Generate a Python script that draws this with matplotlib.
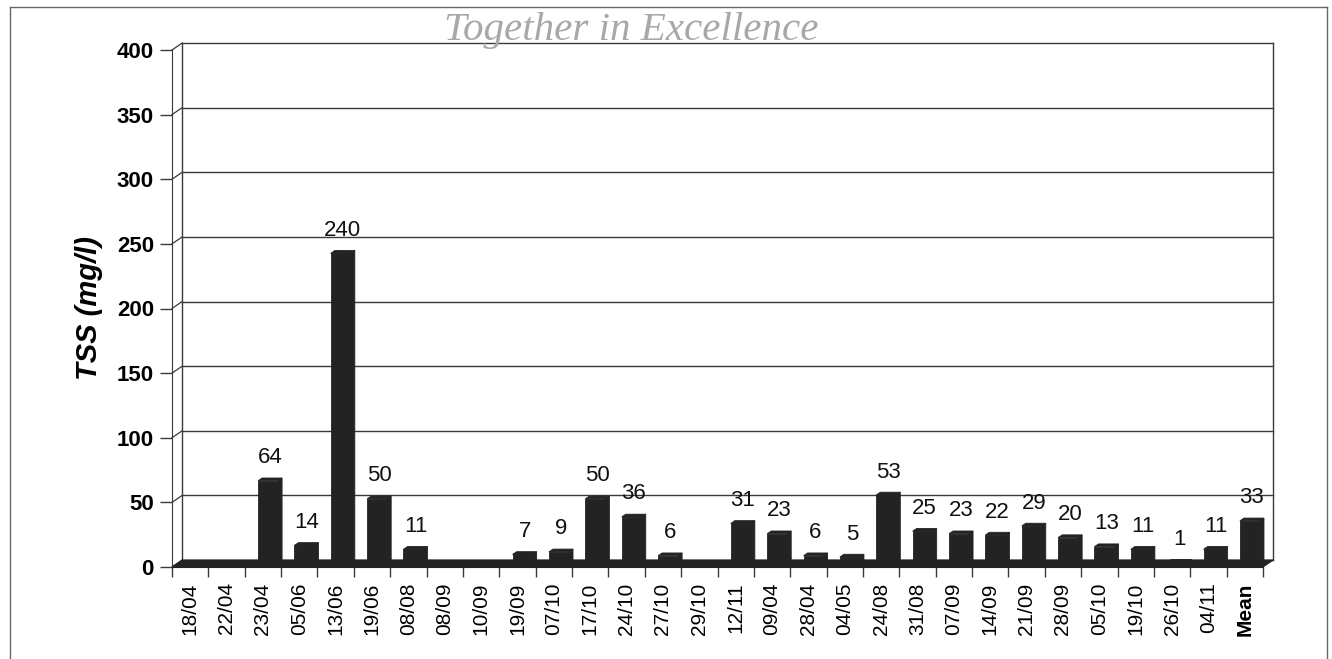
#!/usr/bin/env python3
"""tss_bars.py - TSS per sampling date, drawn as Excel-style 3D columns."""

import matplotlib

matplotlib.use("Agg")
import matplotlib.pyplot as plt
from matplotlib.lines import Line2D
from matplotlib.patches import Polygon

dates = [
    "18/04", "22/04", "23/04", "05/06", "13/06", "19/06", "08/08", "08/09",
    "10/09", "19/09", "07/10", "17/10", "24/10", "27/10", "29/10", "12/11",
    "09/04", "28/04", "04/05", "24/08", "31/08", "07/09", "14/09", "21/09",
    "28/09", "05/10", "19/10", "26/10", "04/11", "Mean",
]
tss = [
    0, 0, 64, 14, 240, 50, 11, 0,
    0, 7, 9, 50, 36, 6, 0, 31,
    23, 6, 5, 53, 25, 23, 22, 29,
    20, 13, 11, 1, 11, 33,
]
# numbers printed above the columns (empty samples carry no label)
shown = [
    None, None, 64, 14, 240, 50, 11, None,
    None, 7, 9, 50, 36, 6, None, 31,
    23, 6, 5, 53, 25, 23, 22, 29,
    20, 13, 11, 1, 11, 33,
]
y_ticks = [0, 50, 100, 150, 200, 250, 300, 350, 400]

DARK = "#232323"
GRID = "#3a3a3a"
# depth of the chart box in data units (x: categories, y: mg/l)
DX, DY = 0.28, 5.4


def p3(x, y, f):
    """Shift a data point back by the fraction f of the box depth."""
    return (x + f * DX, y + f * DY)


def plot(ax):
    n = len(dates)
    ax.set_xlim(0, n)
    ax.set_ylim(0, 400)
    ax.patch.set_visible(False)
    for side in ("top", "right"):
        ax.spines[side].set_visible(False)
    ax.spines["left"].set_color(GRID)
    ax.spines["bottom"].set_color(DARK)

    # back wall and left side wall
    for v in y_ticks:
        (x0, y0), (x1, y1) = p3(0, v, 1), p3(n, v, 1)
        ax.add_line(Line2D([x0, x1], [y0, y1], color=GRID, lw=1.0, clip_on=False, zorder=1))
        (fx, fy), (bx, by) = p3(0, v, 0), p3(0, v, 1)
        ax.add_line(Line2D([fx, bx], [fy, by], color=GRID, lw=0.9, clip_on=False, zorder=1))
    for xe in (0, n):
        (x0, y0), (x1, y1) = p3(xe, 0, 1), p3(xe, 400, 1)
        ax.add_line(Line2D([x0, x1], [y0, y1], color=GRID, lw=1.0, clip_on=False, zorder=1))

    # dark floor
    floor = [p3(0, 0, 0), p3(n, 0, 0), p3(n, 0, 1), p3(0, 0, 1)]
    ax.add_patch(Polygon(floor, closed=True, fc=DARK, ec=DARK, lw=0.8, clip_on=False, zorder=2))

    # columns: front face, side and top
    w = 0.55
    f0, f1 = 0.5, 0.9
    for i, v in enumerate(tss):
        xl = i + 0.5 - w / 2
        xr = xl + w
        front = [p3(xl, 0, f0), p3(xr, 0, f0), p3(xr, v, f0), p3(xl, v, f0)]
        side = [p3(xr, 0, f0), p3(xr, 0, f1), p3(xr, v, f1), p3(xr, v, f0)]
        top = [p3(xl, v, f0), p3(xr, v, f0), p3(xr, v, f1), p3(xl, v, f1)]
        for face in (side, top, front):
            ax.add_patch(Polygon(face, closed=True, fc=DARK, ec=DARK, lw=0.6,
                                 clip_on=False, zorder=3))
        if shown[i] is not None:
            lx, ly = p3(i + 0.5, v, 0.7)
            ax.annotate(str(shown[i]), (lx, ly), xytext=(0, 8), textcoords="offset points",
                        ha="center", va="bottom", fontsize=16, color="#111111",
                        annotation_clip=False, zorder=4)

    # axis ticks and labels
    ax.set_yticks(y_ticks)
    ax.set_yticklabels([str(v) for v in y_ticks], fontsize=16, fontweight="bold")
    ax.tick_params(axis="y", length=9, width=1, color=GRID, pad=4)
    ax.set_xticks(range(n + 1))
    ax.set_xticklabels([])
    ax.tick_params(axis="x", which="major", length=7, width=1, color=GRID)
    ax.set_xticks([i + 0.5 for i in range(n)], minor=True)
    ax.set_xticklabels(dates, minor=True, rotation=90, fontsize=15, va="top")
    ax.tick_params(axis="x", which="minor", length=0, pad=11)
    for lab in ax.get_xticklabels(minor=True):
        if lab.get_text() == "Mean":
            lab.set_fontweight("bold")

    ax.set_ylabel("TSS (mg/l)", fontsize=21, fontweight="bold", style="italic", labelpad=10)


def main():
    plt.rcParams["font.family"] = ["Liberation Sans", "DejaVu Sans"]
    fig = plt.figure(figsize=(13.32, 6.59), dpi=100)
    W, H = 1332, 659
    ax = fig.add_axes([172 / W, 1 - 567 / H, 1091 / W, 517 / H])
    plot(ax)

    # outer chart frame
    fx0, fx1, fy0 = 10 / W, 1327 / W, 1 - 7 / H
    for xs, ys in (([fx0, fx1], [fy0, fy0]), ([fx0, fx0], [fy0, 0]), ([fx1, fx1], [fy0, 0])):
        fig.add_artist(Line2D(xs, ys, color="#666666", lw=1.0, transform=fig.transFigure))

    fig.text(631 / W, 1 - 40 / H, "Together in Excellence", ha="center", va="baseline",
             fontsize=29.5, style="italic", family="Liberation Serif", color="#a8a8a8")

    fig.savefig("out.png", dpi=100)


if __name__ == "__main__":
    main()
